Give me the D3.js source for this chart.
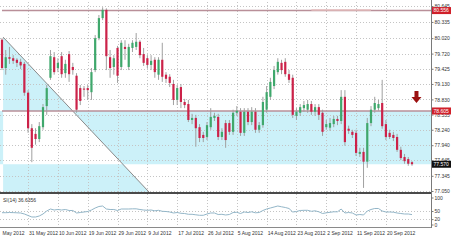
<!DOCTYPE html>
<html>
<head>
<meta charset="utf-8">
<script src="https://cdn.jsdelivr.net/npm/d3@7"></script>
<style>
body { margin: 0; background: #fff; }
svg { display: block; font-family: "Liberation Sans", Arial, sans-serif; }
.grid { stroke: #c4c4c4; stroke-width: 1; stroke-dasharray: 1,2; }
.axis path, .axis line { stroke: #7a7a7a; }
.axis text { fill: #333; font-size: 5px; font-family: "Liberation Sans", Arial, sans-serif; }
</style>
</head>
<body>
<svg></svg>
<script>
// daily candles, May - Sep 2012
var opens = [79.99,79.44,79.65,79.63,79.60,79.56,79.52,78.96,78.27,78.16,
78.06,78.29,78.70,79.25,79.65,79.44,79.67,79.34,79.71,79.46,
79.29,79.05,79.04,79.05,78.97,79.40,80.02,80.41,80.57,79.65,
79.46,79.83,79.46,79.85,79.46,79.83,79.85,79.95,79.71,79.63,
79.50,79.60,79.31,79.60,79.31,79.27,79.13,78.82,79.07,78.78,
78.74,78.43,78.47,78.29,78.14,78.10,78.29,78.47,78.49,78.10,
78.37,78.37,78.20,78.57,78.59,78.18,78.59,78.39,78.59,78.24,
78.33,78.63,78.88,79.09,79.36,79.54,79.56,79.32,79.25,78.51,
78.57,78.66,78.63,78.74,78.59,78.68,78.57,78.29,78.28,78.35,
78.45,78.41,78.88,78.26,78.20,78.18,77.77,77.81,77.62,78.37,
78.63,78.66,78.76,78.35,78.18,78.14,78.10,77.85,77.71,77.67,
77.61];
var highs = [80.02,79.79,79.85,79.69,79.63,79.62,79.56,79.01,78.35,78.27,
78.39,78.74,79.11,79.79,79.75,79.63,79.75,79.60,79.77,79.54,
79.34,79.11,79.09,79.11,79.44,80.08,80.47,80.62,80.60,79.79,
79.69,79.87,79.98,79.98,79.91,79.98,80.12,79.98,79.83,79.69,
79.69,79.65,79.65,79.93,79.36,79.32,79.21,79.11,79.13,78.84,
78.82,78.55,78.53,78.35,78.20,78.39,78.66,78.57,78.55,78.27,
78.43,78.43,78.63,78.70,78.66,78.66,78.66,78.68,78.66,78.39,
78.88,79.09,79.25,79.48,79.63,79.60,79.63,79.40,79.31,78.66,
78.74,78.80,78.82,78.80,78.74,78.74,78.63,78.43,78.47,78.51,
78.51,79.01,79.01,78.32,78.24,78.24,77.89,77.89,78.47,78.70,
78.88,78.82,79.21,78.43,78.24,78.20,78.16,77.91,77.77,77.71,
77.63];
var lows = [79.40,79.31,79.52,79.52,79.46,79.42,78.90,78.18,77.61,77.95,
78.00,78.24,78.53,79.21,79.31,79.36,79.25,79.25,79.17,79.31,
78.57,78.72,78.88,78.82,78.82,79.36,79.98,80.37,79.40,79.25,
79.31,79.15,79.40,79.60,79.40,79.75,79.79,79.63,79.48,79.44,
79.40,79.25,79.21,79.17,79.15,79.07,78.72,78.72,78.66,78.66,
78.39,78.35,77.91,78.00,78.00,78.04,78.24,78.41,78.04,78.04,
77.89,78.14,78.14,78.51,78.12,78.12,78.33,78.33,78.18,78.18,
78.28,78.57,78.82,79.03,79.31,79.32,79.27,79.15,78.47,78.43,
78.51,78.59,78.57,78.53,78.51,78.43,78.12,78.24,78.22,78.29,
78.33,78.35,77.93,78.16,78.08,77.73,77.71,77.11,77.50,78.31,
78.57,78.61,78.26,78.04,78.06,78.02,77.81,77.65,77.58,77.54,
77.54];
var closes = [79.44,79.65,79.62,79.58,79.54,79.49,78.96,78.27,77.89,78.06,
78.31,78.68,79.05,79.67,79.36,79.54,79.32,79.52,79.32,79.40,
78.63,78.80,79.02,79.01,79.36,80.02,80.41,80.57,79.67,79.44,
79.63,79.29,79.93,79.81,79.85,79.93,79.95,79.69,79.54,79.50,
79.58,79.36,79.60,79.27,79.23,79.15,78.82,79.05,78.78,78.72,
78.43,78.47,78.27,78.08,78.08,78.33,78.49,78.51,78.10,78.20,
78.04,78.20,78.57,78.61,78.18,78.59,78.39,78.59,78.24,78.33,
78.78,78.97,79.17,79.40,79.56,79.40,79.32,79.21,78.53,78.59,
78.68,78.72,78.74,78.59,78.68,78.53,78.20,78.35,78.37,78.45,
78.41,78.88,78.00,78.22,78.14,77.79,77.81,77.62,78.37,78.63,
78.76,78.74,78.31,78.10,78.10,78.08,77.85,77.69,77.63,77.58,
77.57];

// oscillator in the lower pane
var osc = [43.7,43.7,44.4,44.0,43.3,42.6,38.9,33.3,27.8,27.8,
31.5,38.9,50.0,57.4,53.7,55.6,53.7,55.6,51.9,51.9,
42.6,44.4,46.3,48.1,53.7,61.1,66.7,68.5,57.4,55.6,
55.6,51.9,57.4,57.4,57.4,58.1,58.1,55.6,53.7,52.6,
53.7,50.7,52.6,48.9,48.1,46.3,42.6,44.4,41.5,40.7,
37.8,37.8,35.9,34.1,34.1,38.9,42.6,42.6,37.0,37.8,
35.2,37.0,44.4,45.2,40.7,46.3,44.4,47.0,43.3,44.4,
51.9,57.4,61.1,64.8,68.5,65.6,63.0,59.3,46.3,48.1,
51.9,52.6,52.6,48.9,50.7,47.0,40.7,43.3,45.2,47.0,
47.0,57.4,42.6,44.4,42.6,35.2,37.0,35.2,50.0,55.6,
59.3,59.3,50.0,46.3,46.3,45.6,42.6,40.7,38.9,38.9,
36.64];

// axis labels
var priceTicks = ["80.645","80.335","80.020","79.720","79.425","79.130","78.830",
                  "78.535","78.240","77.940","77.645","77.345","77.050"];
var oscTicks = [100, 50, 20, 0];
var dateIdx = [0, 7, 15, 23, 31, 39, 47, 55, 63, 71, 79, 87, 95, 103];
var dateLabels = ["May 2012","31 May 2012","10 Jun 2012","19 Jun 2012","29 Jun 2012",
                  "9 Jul 2012","17 Jul 2012","26 Jul 2012","5 Aug 2012","14 Aug 2012",
                  "23 Aug 2012","2 Sep 2012","11 Sep 2012","20 Sep 2012"];

// drawn objects
var resistance = 80.556;
var support = 78.605;
var lastPrice = 77.570;
var triangle = [[0.3, 80.04], [39.7, 77.01], [0.3, 77.01]];
var box = [78.605, 77.570];
var arrowAt = [111.2, 78.76];

var width = 453, height = 240;
var plotRight = 431;
var mainBottom = 193, indBottom = 227;

var svg = d3.select("svg")
    .attr("width", width)
    .attr("height", height);

var x = d3.scaleLinear().domain([0, 110]).range([2, 412]);
var y = d3.scaleLinear().domain([77.05, 80.645]).range([191, 6]);
var yOsc = d3.scaleLinear().domain([0, 100]).range([224.5, 197.5]);

// cyan box and triangle, overlap cancels out (evenodd)
var p = d3.path();
p.moveTo(0, y(box[0]));
p.lineTo(plotRight, y(box[0]));
p.lineTo(plotRight, y(box[1]));
p.lineTo(0, y(box[1]));
p.closePath();
triangle.forEach(function (t, i) {
    if (i == 0) p.moveTo(x(t[0]), y(t[1]));
    else p.lineTo(x(t[0]), y(t[1]));
});
p.closePath();
svg.append("path")
    .attr("d", p.toString())
    .attr("fill", "#ccf1f9")
    .attr("fill-rule", "evenodd");

// grid
svg.selectAll(".hgrid")
    .data(priceTicks)
    .enter()
    .append("line")
    .attr("class", "grid")
    .attr("x1", 0).attr("x2", plotRight)
    .attr("y1", function (d) { return Math.round(y(+d)) + 0.5; })
    .attr("y2", function (d) { return Math.round(y(+d)) + 0.5; });

svg.selectAll(".vgrid")
    .data(dateIdx.slice(1))
    .enter()
    .append("line")
    .attr("class", "grid")
    .attr("x1", function (d) { return Math.round(x(d)) + 0.5; })
    .attr("x2", function (d) { return Math.round(x(d)) + 0.5; })
    .attr("y1", 2).attr("y2", indBottom);

svg.selectAll(".ogrid")
    .data([50, 20])
    .enter()
    .append("line")
    .attr("class", "grid")
    .attr("x1", 0).attr("x2", plotRight)
    .attr("y1", function (d) { return Math.round(yOsc(d)) + 0.5; })
    .attr("y2", function (d) { return Math.round(yOsc(d)) + 0.5; });

// triangle edge
svg.append("line")
    .attr("x1", x(triangle[0][0])).attr("y1", y(triangle[0][1]))
    .attr("x2", x(triangle[1][0])).attr("y2", y(triangle[1][1]))
    .style("stroke", "#8a8a8a")
    .style("stroke-width", 1);

// horizontal levels
[resistance, support].forEach(function (v) {
    svg.append("line")
        .attr("x1", 2).attr("x2", plotRight)
        .attr("y1", y(v)).attr("y2", y(v))
        .style("stroke", "#b98f99")
        .style("stroke-width", 1.5);
});
svg.append("line")
    .attr("x1", x(83)).attr("x2", x(99))
    .attr("y1", y(resistance) - 0.5).attr("y2", y(resistance) - 0.5)
    .style("stroke", "#e4bcbc")
    .style("stroke-width", 1.5);

// candles
var idx = d3.range(opens.length);
var bw = 2.2;

svg.selectAll(".wick")
    .data(idx)
    .enter()
    .append("line")
    .attr("x1", function (i) { return x(i); })
    .attr("x2", function (i) { return x(i); })
    .attr("y1", function (i) { return y(highs[i]); })
    .attr("y2", function (i) { return y(lows[i]); })
    .style("stroke", "#a0a0a0")
    .style("stroke-width", 1);

svg.selectAll(".body")
    .data(idx)
    .enter()
    .append("rect")
    .attr("x", function (i) { return x(i) - bw / 2; })
    .attr("y", function (i) { return y(Math.max(opens[i], closes[i])); })
    .attr("width", bw)
    .attr("height", function (i) {
        return Math.max(1, Math.abs(y(opens[i]) - y(closes[i])));
    })
    .attr("fill", function (i) {
        return closes[i] >= opens[i] ? "#3fa86c" : "#cc2249";
    });

// down arrow
var ax = x(arrowAt[0]), ay = y(arrowAt[1]);
svg.append("path")
    .attr("d", "M" + (ax - 2) + "," + (ay - 12) + "h4v6h3l-5,6l-5,-6h3z")
    .attr("fill", "#9b1010");

// pane frames
svg.append("line")
    .attr("x1", 0).attr("x2", plotRight)
    .attr("y1", mainBottom).attr("y2", mainBottom)
    .style("stroke", "#4a4a4a")
    .style("stroke-width", 2);
svg.append("line")
    .attr("x1", 0).attr("x2", plotRight)
    .attr("y1", indBottom + 0.5).attr("y2", indBottom + 0.5)
    .style("stroke", "#8a8a8a");

// oscillator
svg.append("path")
    .datum(idx)
    .attr("d", d3.line()
        .x(function (i) { return x(i); })
        .y(function (i) { return yOsc(osc[i]); }))
    .attr("fill", "none")
    .style("stroke", "#93b6c8")
    .style("stroke-width", 1);

svg.append("text")
    .attr("x", 3).attr("y", 201.5)
    .style("font-size", "5px")
    .style("fill", "#333")
    .text("SI(14) 36.6356");

// right price axis
var yAxis = d3.axisRight(y)
    .tickValues(priceTicks.map(Number))
    .tickFormat(d3.format(".3f"))
    .tickSize(2)
    .tickPadding(1);
svg.append("g")
    .attr("class", "axis")
    .attr("transform", "translate(" + (plotRight + 0.5) + ",0)")
    .call(yAxis)
    .call(function (g) { g.select(".domain").attr("d", "M0,0V" + (indBottom + 1)); });

var oAxis = d3.axisRight(yOsc)
    .tickValues(oscTicks)
    .tickSize(2)
    .tickPadding(1);
svg.append("g")
    .attr("class", "axis")
    .attr("transform", "translate(" + (plotRight + 0.5) + ",0)")
    .call(oAxis)
    .call(function (g) { g.select(".domain").remove(); });

// price boxes
var boxes = [[resistance, "#d0202a", "#fff"], [support, "#d0202a", "#fff"], [lastPrice, "#111", "#fff"]];
boxes.forEach(function (b) {
    svg.append("rect")
        .attr("x", plotRight + 1).attr("y", y(b[0]) - 3.5)
        .attr("width", 19).attr("height", 7)
        .attr("fill", b[1]);
    svg.append("text")
        .attr("x", plotRight + 2.5).attr("y", y(b[0]) + 1.8)
        .style("font-size", "5px")
        .style("fill", b[2])
        .text(d3.format(".3f")(b[0]));
});

// date axis
var xAxis = d3.axisBottom(x)
    .tickValues(dateIdx)
    .tickFormat(function (d, i) { return dateLabels[i]; })
    .tickSize(0);
svg.append("g")
    .attr("class", "axis")
    .attr("transform", "translate(0," + (indBottom + 1) + ")")
    .call(xAxis)
    .call(function (g) {
        g.select(".domain").remove();
        g.selectAll("text").attr("text-anchor", "start").attr("dx", 0.5).attr("y", 3);
        g.select(".tick text").attr("dx", 0);
    });
</script>
</body>
</html>
